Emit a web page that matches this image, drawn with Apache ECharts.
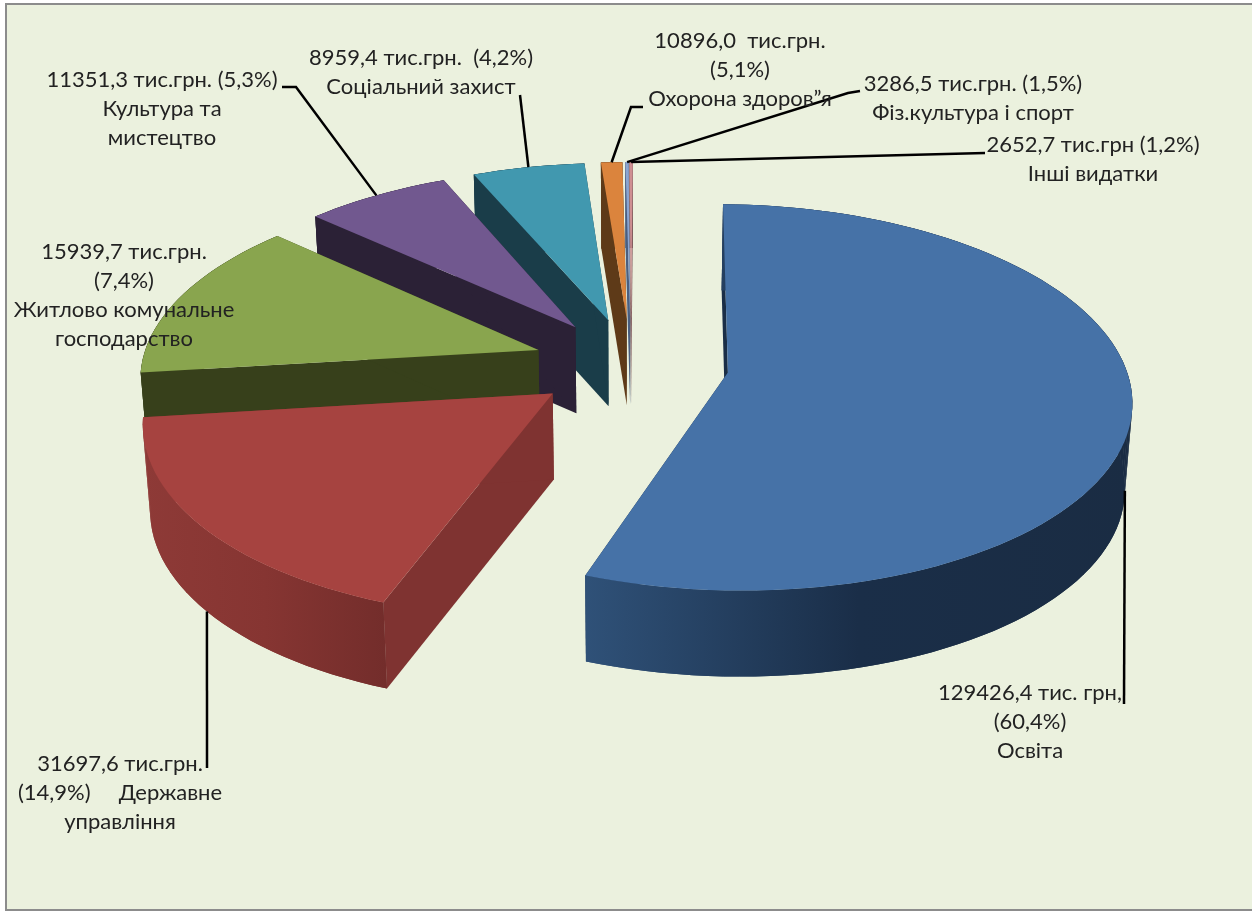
<!DOCTYPE html>
<html>
<head>
<meta charset="utf-8">
<title>Видатки бюджету</title>
<style>
  html, body { margin: 0; padding: 0; background: #fff; }
  #chart { width: 1252px; height: 913px; }
</style>
<script src="https://cdn.jsdelivr.net/npm/echarts@6/dist/echarts.min.js"></script>
</head>
<body>
<div id="chart"></div>
<script>
// slice order runs clockwise from 12 o'clock
const categories = ['Освіта', 'Державне управління', 'Житлово комунальне господарство', 'Культура та мистецтво',
  'Соціальний захист', 'Охорона здоров”я', 'Фіз.культура і спорт', 'Інші видатки']
// wedge sizes in percent of the circle as they are drawn (they differ from the printed percentages)
const drawnShares = [55.3, 17.5, 13.65, 6.8, 5.25, 1.0, 0.15, 0.15]
const labelLines = [
  ['129426,4 тис. грн,', '(60,4%)', 'Освіта'],
  ['31697,6 тис.грн.', '(14,9%)     Державне', 'управління'],
  ['15939,7 тис.грн.', '(7,4%)', 'Житлово комунальне', 'господарство'],
  ['11351,3 тис.грн. (5,3%)', 'Культура та', 'мистецтво'],
  ['8959,4 тис.грн.  (4,2%)', 'Соціальний захист'],
  ['10896,0  тис.грн.', '(5,1%)', 'Охорона здоров”я'],
  ['3286,5 тис.грн. (1,5%)', 'Фіз.культура і спорт'],
  ['2652,7 тис.грн (1,2%)', 'Інші видатки'],
]

const topColors = ['#4672a7', '#a64340', '#89a54e', '#71588f', '#4198af', '#db843d', '#8aa4d0', '#cf8f92']
const cutColors = ['#1a2e47', '#7f3331', '#37401b', '#2b2136', '#1a3d49', '#5e3a18', '#4a5f80', '#7f5a5c']
const wallStops = [
  ['#2f5178', '#1a2e48', '#1a2c43'],
  ['#8e3a37', '#863532', '#732d2b'],
  ['#37401b', '#37401b', '#37401b'],
  ['#2b2136', '#2b2136', '#2b2136'],
  ['#1a3d49', '#1a3d49', '#1a3d49'],
  ['#5e3a18', '#5e3a18', '#5e3a18'],
  ['#4a5f80', '#4a5f80', '#4a5f80'],
  ['#7f5a5c', '#7f5a5c', '#7f5a5c'],
]

// label layout: centre x and the y of the first line
const labelPos = [[1030, 693], [120, 764], [124, 252], [162, 80], [421, 58], [740, 41], [973, 84], [1093, 145]]
const lineGap = 29
// leader line: where it touches the slice (0..1 along the rim, on top or bottom edge), then its free points
const leaderAnchor = [[0.495, 1], [0.5, 1], null, [0.5, 0], [0.5, 0], [0.5, 0], [0.5, 0], [0.5, 0]]
const leaderPoints = [
  [[1124, 704]],
  [[207, 768]],
  null,
  [[296, 87], [282, 87]],
  [[520, 95]],
  [[631, 107], [643, 107]],
  [[848, 93], [860, 91]],
  [[985, 153]],
]

const cx = 631, cy = 364, R = 397, tilt = 0.473, persp = 0.128
const explode = 98, depth = 86, bottomShrink = 0.985, startAngle = 1

function sliceSpan(i) {
  let from = startAngle
  for (let j = 0; j < i; j++) from += drawnShares[j] * 3.6
  return [from, from + drawnShares[i] * 3.6]
}

// disc coordinates (x right, y towards the viewer) to screen
function project(x, y, z) {
  const s = 1 / (1 - persp * y / R)
  const shrink = z ? bottomShrink : 1
  return [cx + x * s * shrink, cy + y * tilt * s + z * depth]
}

function rimPoint(apex, deg) {
  const a = deg * Math.PI / 180
  return [apex[0] + R * Math.sin(a), apex[1] - R * Math.cos(a)]
}

function sliceApex(span) {
  const m = (span[0] + span[1]) / 2 * Math.PI / 180
  return [explode * Math.sin(m), -explode * Math.cos(m)]
}

function renderSlice(params, api) {
  const i = api.value(0)
  const span = sliceSpan(i)
  const apex = sliceApex(span)
  const steps = Math.max(2, Math.round((span[1] - span[0]) / 2))
  const rim = []
  for (let k = 0; k <= steps; k++) rim.push(rimPoint(apex, span[0] + (span[1] - span[0]) * k / steps))

  const top = rim.map(p => project(p[0], p[1], 0))
  const low = rim.map(p => project(p[0], p[1], 1))
  const aTop = project(apex[0], apex[1], 0)
  const aLow = project(apex[0], apex[1], 1)
  const last = rim.length - 1
  const xs = top.concat(low).map(p => p[0])
  const x0 = Math.min(...xs), x1 = Math.max(...xs)
  const stops = wallStops[i]

  const face = (points, fill) => ({ type: 'polygon', shape: { points }, style: { fill } })
  const wallFill = new echarts.graphic.LinearGradient(x0, 0, x1, 0, [
    { offset: 0, color: stops[0] },
    { offset: 0.5, color: stops[1] },
    { offset: 1, color: stops[2] },
  ], true)

  // quads fill the side silhouette, the single polygon over them hides their seams
  const quads = []
  for (let k = 0; k < last; k++) quads.push(face([top[k], top[k + 1], low[k + 1], low[k]], wallFill))

  return {
    type: 'group',
    children: [
      face([aTop, top[0], low[0], aLow], cutColors[i]),
      face([aTop, top[last], low[last], aLow], cutColors[i]),
      ...quads,
      face(top.concat(low.slice().reverse()), wallFill),
      face([aTop].concat(top), topColors[i]),
    ],
  }
}

function renderLabel(params, api) {
  const i = api.value(0)
  const children = []
  const pos = labelPos[i]
  if (leaderAnchor[i]) {
    const span = sliceSpan(i)
    const apex = sliceApex(span)
    const rp = rimPoint(apex, span[0] + (span[1] - span[0]) * leaderAnchor[i][0])
    children.push({
      type: 'polyline',
      shape: { points: [project(rp[0], rp[1], leaderAnchor[i][1])].concat(leaderPoints[i]) },
      style: { stroke: '#000', lineWidth: 2.5, fill: null },
    })
  }
  labelLines[i].forEach((text, n) => {
    children.push({
      type: 'text',
      style: {
        text, x: pos[0], y: pos[1] + n * lineGap, align: 'center', verticalAlign: 'middle',
        fill: '#222', fontSize: 22, fontFamily: 'Lato, "Noto Sans", sans-serif',
      },
    })
  })
  return { type: 'group', children }
}

// painted back to front: the small slices at 12 o'clock first, the front ones last
const sliceData = categories.map((name, i) => ({ name, value: [i, drawnShares[i]] })).reverse()

const chart = echarts.init(document.getElementById('chart'), null, { renderer: 'canvas' })
chart.setOption({
  animation: false,
  backgroundColor: '#ffffff',
  graphic: [{
    type: 'rect', silent: true, z: -10,
    shape: { x: 6, y: 4, width: 1260, height: 906 },
    style: { fill: '#ebf1de', stroke: '#8c8c8c', lineWidth: 2 },
  }],
  series: [
    { type: 'custom', coordinateSystem: 'none', renderItem: renderSlice, data: sliceData, z: 2, silent: true },
    { type: 'custom', coordinateSystem: 'none', renderItem: renderLabel, data: sliceData, z: 3, silent: true },
  ],
})
</script>
</body>
</html>
